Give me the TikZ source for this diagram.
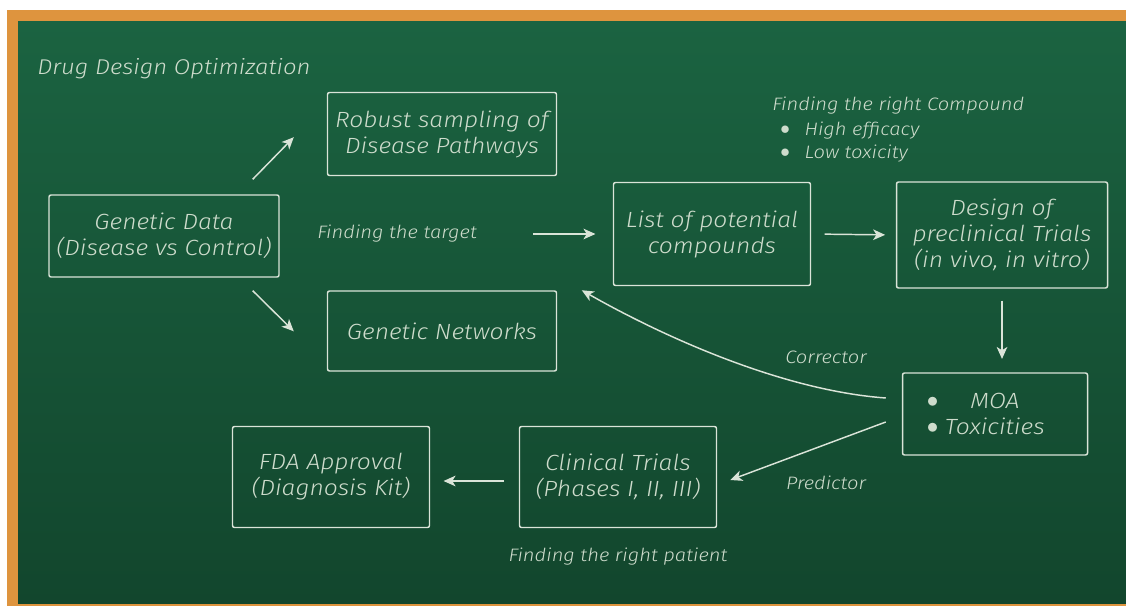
\documentclass[tikz,border=0pt]{standalone}
\usepackage{fontspec}
\setmainfont{Fira Sans}[UprightFont=* Light Italic,FakeStretch=1.12]
\usetikzlibrary{arrows.meta,calc}

\definecolor{chalk}{RGB}{218,228,216}
\definecolor{chalktext}{RGB}{206,220,204}
\definecolor{boardtop}{RGB}{27,99,65}
\definecolor{boardbottom}{RGB}{18,70,45}
\definecolor{woodframe}{RGB}{222,148,62}

\newcommand{\chalkdot}{\raisebox{1pt}{$\bullet$}}

\begin{document}
\begin{tikzpicture}[x=0.75pt,y=0.75pt,yscale=-1,xscale=1,
  chalkbox/.style={draw=chalk,line width=1.1pt,rounded corners=1.5pt,align=center,
    text=chalktext,font=\fontsize{16.5}{19.5}\selectfont,inner sep=0pt},
  chalknote/.style={text=chalktext,font=\fontsize{13.5}{17}\selectfont,inner sep=0pt},
  chalkarrow/.style={draw=chalk,line width=1.1pt,-{Stealth[length=9pt,width=8pt,inset=2.5pt]}}]
  \useasboundingbox (0,0) rectangle (1126,606);

  %Shape: Board
  \fill[white] (0,0) rectangle (1126,606);
  \fill[woodframe] (7,10) rectangle (1126,606);
  \shade[top color=boardtop,bottom color=boardbottom] (18,22) rectangle (1126,603);

  % Text Node
  \node[chalknote,anchor=west,font=\fontsize{16}{18}\selectfont] (title) at (37,69) {Drug Design Optimization};

  %Shape: Rectangle
  \node[chalkbox,minimum width=172.5pt,minimum height=61.5pt] (gd) at (164,236) {Genetic Data\\(Disease vs Control)};
  %Shape: Rectangle
  \node[chalkbox,minimum width=171.75pt,minimum height=62.25pt] (robust) at (442,134) {Robust sampling of\\Disease Pathways};
  %Shape: Rectangle
  \node[chalkbox,minimum width=171.75pt,minimum height=60pt] (networks) at (442,331) {Genetic Networks};
  %Shape: Rectangle
  \node[chalkbox,minimum width=147.75pt,minimum height=77.25pt] (list) at (712,234) {List of potential\\compounds};
  %Shape: Rectangle
  \node[chalkbox,minimum width=158.25pt,minimum height=79.5pt] (design) at (1002,235) {Design of\\preclinical Trials\\(in vivo, in vitro)};
  %Shape: Rectangle
  \node[chalkbox,minimum width=138.75pt,minimum height=61.5pt,align=left] (moa) at (995,414) {\chalkdot\hspace{24pt}MOA\\\chalkdot\hspace{5pt}Toxicities\hspace*{14pt}};
  %Shape: Rectangle
  \node[chalkbox,minimum width=147.75pt,minimum height=75.75pt] (clinical) at (618,477) {Clinical Trials\\(Phases I, II, III)};
  %Shape: Rectangle
  \node[chalkbox,minimum width=147.75pt,minimum height=75.75pt] (fda) at (331,477) {FDA Approval\\(Diagnosis Kit)};

  % Text Node
  \node[chalknote,anchor=west] (target) at (317,234) {Finding the target};
  % Text Node
  \node[chalknote,anchor=west] (compound) at (772,106) {Finding the right Compound};
  % Text Node
  \node[chalknote,anchor=west] (efficacy) at (780,131) {\chalkdot\hspace{11pt}High efficacy};
  % Text Node
  \node[chalknote,anchor=west] (toxicity) at (780,154) {\chalkdot\hspace{11pt}Low toxicity};
  % Text Node
  \node[chalknote] (corrector) at (826,357) {Corrector};
  % Text Node
  \node[chalknote] (predictor) at (826,483) {Predictor};
  % Text Node
  \node[chalknote] (patient) at (618,557) {Finding the right patient};

  %Straight Lines
  \draw[chalkarrow] ($(gd.north east)+(-27,-15)$) -- ($(robust.south west)+(-33,-39)$);
  %Straight Lines
  \draw[chalkarrow] ($(gd.south east)+(-27,13)$) -- ($(networks.north west)+(-33,41)$);
  %Straight Lines
  \draw[chalkarrow,shorten <=42pt,shorten >=13pt] (target.east) -- (list.west);
  %Straight Lines
  \draw[chalkarrow,shorten <=10pt,shorten >=8pt] (list.east) -- (design.west);
  %Straight Lines
  \draw[chalkarrow,shorten <=9pt,shorten >=10pt] (design.south) -- (design.south |- moa.north);
  %Curve Lines
  \draw[chalkarrow] ($(moa.west)+(-16,-16)$) .. controls +(-110,-8) and +(70,40) .. ($(list.south west)+(-31,4)$);
  %Straight Lines
  \draw[chalkarrow] ($(moa.west)+(-16,8)$) -- ($(clinical.east)+(13,3)$);
  %Straight Lines
  \draw[chalkarrow,shorten <=11pt,shorten >=10pt] ($(clinical.west)+(0,4)$) -- ($(fda.east)+(0,4)$);

\end{tikzpicture}
\end{document}
